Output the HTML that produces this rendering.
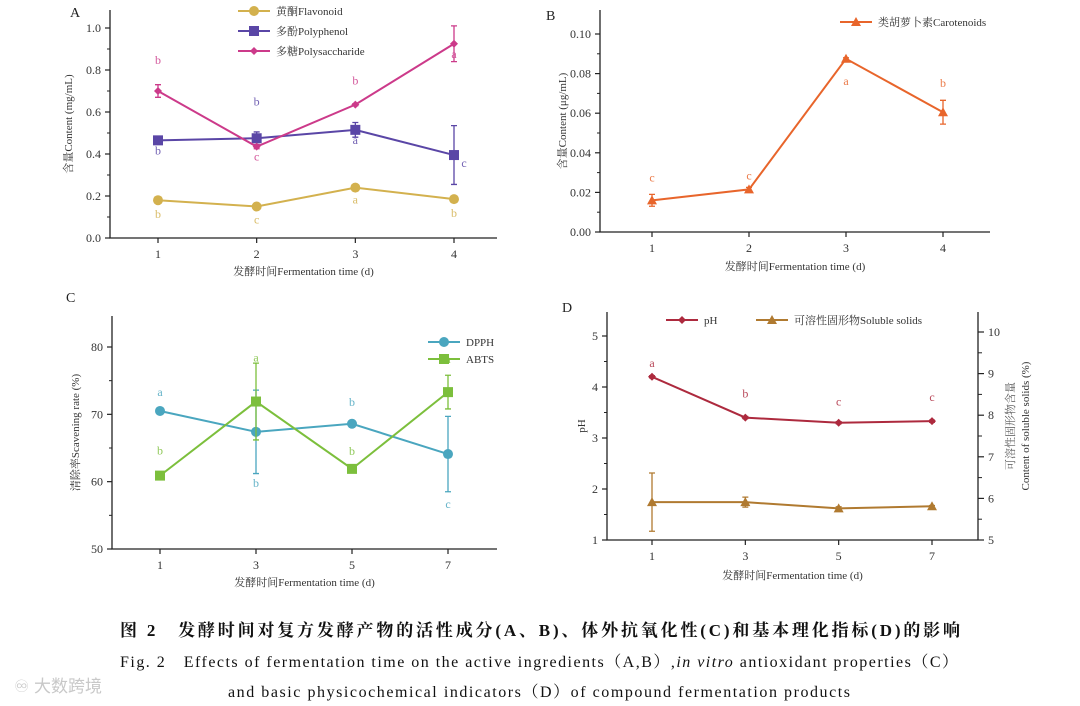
<!DOCTYPE html>
<html><head><meta charset="utf-8">
<style>
body{margin:0;background:#fff;width:1080px;height:706px;overflow:hidden;}
svg{display:block;font-family:"Liberation Serif","Noto Serif CJK SC",serif;}
</style></head>
<body>
<svg id="fig" width="1080" height="706" viewBox="0 0 1080 706"></svg>
<script>
// ---- Panel A data ----
const aCats = [1,2,3,4];
const aFlav = [0.18,0.15,0.24,0.185];
const aFlavErr = [0.005,0.005,0.005,0.005];
const aFlavLbl = ['b','c','a','b'];
const aPoly = [0.465,0.475,0.515,0.395];
const aPolyErr = [0.005,0.03,0.035,0.14];
const aPolyLbl = ['b','b','a','c'];
const aSac = [0.70,0.435,0.635,0.925];
const aSacErr = [0.03,0.01,0.005,0.085];
const aSacLbl = ['b','c','b','a'];
const aTicks = [0,0.2,0.4,0.6,0.8,1.0];
// ---- Panel B data ----
const bCats = [1,2,3,4];
const bCar = [0.016,0.0215,0.0875,0.0605];
const bCarErr = [0.003,0.001,0.0005,0.006];
const bCarLbl = ['c','c','a','b'];
const bTicks = [0,0.02,0.04,0.06,0.08,0.10];
// ---- Panel C data ----
const cCats = [1,3,5,7];
const cDpph = [70.5,67.4,68.6,64.1];
const cDpphErr = [0.3,6.2,0.5,5.6];
const cDpphLbl = ['a','b','b','c'];
const cAbts = [60.9,71.9,61.9,73.3];
const cAbtsErr = [0.3,5.7,0.4,2.5];
const cAbtsLbl = ['b','a','b','a'];
const cTicks = [50,60,70,80];
// ---- Panel D data ----
const dCats = [1,3,5,7];
const dPh = [4.2,3.4,3.3,3.33];
const dPhErr = [0.02,0.02,0.02,0.02];
const dPhLbl = ['a','b','c','c'];
const dSol = [5.91,5.91,5.76,5.81];
const dSolErr = [0.7,0.12,0.04,0.02];
const dTicksL = [1,2,3,4,5];
const dTicksR = [5,6,7,8,9,10];

const svg = document.getElementById('fig');
const NS = 'http://www.w3.org/2000/svg';
function mk(tag, attrs, text){
  const e = document.createElementNS(NS, tag);
  for (const k in attrs) e.setAttribute(k, attrs[k]);
  if (text !== undefined) e.textContent = text;
  svg.appendChild(e);
  return e;
}
function lin(d0,d1,r0,r1){return v=>r0+(v-d0)*(r1-r0)/(d1-d0);}

function marker(shape, x, y, col){
  let e;
  if (shape==='circle') e = mk('circle',{cx:x,cy:y,r:5,fill:col});
  else if (shape==='square') e = mk('rect',{x:x-5,y:y-5,width:10,height:10,fill:col});
  else if (shape==='diamond') e = mk('path',{d:`M${x} ${y-4}L${x+4} ${y}L${x} ${y+4}L${x-4} ${y}Z`,fill:col});
  else e = mk('path',{d:`M${x} ${y-5}L${x+5} ${y+4}L${x-5} ${y+4}Z`,fill:col});
  return e;
}

function series(name, cats, vals, errs, lbls, xs, ys, col, shape, lblOff){
  let d = '';
  cats.forEach((c,i)=>{d += (i?'L':'M') + xs(c) + ' ' + ys(vals[i]);});
  const p = mk('path',{d:d,fill:'none',stroke:col,'stroke-width':2});
  
  
  cats.forEach((c,i)=>{
    const x = xs(c), y1 = ys(vals[i]+errs[i]), y2 = ys(vals[i]-errs[i]);
    const eb = mk('path',{d:`M${x} ${y1}V${y2}M${x-3} ${y1}H${x+3}M${x-3} ${y2}H${x+3}`,stroke:col,'stroke-width':1.3,fill:'none'});
    
    
    const m = marker(shape, x, ys(vals[i]), col);
    
    
    if (lbls){
      const o = lblOff[i];
      const t = mk('text',{x:x+o[0],y:ys(vals[i])+o[1],fill:col,'font-size':12,'text-anchor':'middle','opacity':0.85},lbls[i]);
      
      
    }
  });
}

function axes(name, x0, x1, yTop, yBot, ticks, ys, fmt, cats, xs, panelLbl, plx, ply, ytitle, ytx, xtitleY){
  const ax = mk('path',{d:`M${x0} ${yTop}V${yBot}H${x1}`,stroke:'#222','stroke-width':1.3,fill:'none'});
  
  
  ticks.forEach((t,i)=>{
    const y = ys(t);
    mk('path',{d:`M${x0-5} ${y}H${x0}`,stroke:'#222','stroke-width':1.2});
    if (i<ticks.length-1){const ym=(y+ys(ticks[i+1]))/2; mk('path',{d:`M${x0-3} ${ym}H${x0}`,stroke:'#222','stroke-width':1});}
    const tl = mk('text',{x:x0-9,y:y+4,'font-size':12,'text-anchor':'end',fill:'#333'},fmt(t));
    
    
  });
  cats.forEach(c=>{
    mk('path',{d:`M${xs(c)} ${yBot}V${yBot+5}`,stroke:'#222','stroke-width':1.2});
    const tl = mk('text',{x:xs(c),y:yBot+20,'font-size':12,'text-anchor':'middle',fill:'#333'},c);
    
    
  });
  const pl = mk('text',{x:plx,y:ply,'font-size':14,fill:'#222'},panelLbl);
  
  
  const yc = (yTop+yBot)/2;
  const yt = mk('text',{x:ytx,y:yc,'font-size':11,'text-anchor':'middle',fill:'#333',transform:`rotate(-90 ${ytx} ${yc})`},ytitle);
  
  
  const xt = mk('text',{x:(x0+x1)/2,y:xtitleY,'font-size':11,'text-anchor':'middle',fill:'#333'},'发酵时间Fermentation time (d)');
  
  
}

function legend(name, x, y, col, shape, label){
  const l = mk('path',{d:`M${x} ${y}H${x+32}`,stroke:col,'stroke-width':2});
  
  
  marker(shape, x+16, y, col);
  const t = mk('text',{x:x+38,y:y+4,'font-size':11,fill:'#333'},label);
  
  
}

// Panel A
const axA = lin(1,4,158,454), ayA = lin(0,1,238,28);
axes('panel-a',110,497,10,238,aTicks,ayA,v=>v.toFixed(1),aCats,axA,'A',70,17,'含量Content (mg/mL)',72,275);
const CF='#d3b14e', CP='#5a46a6', CS='#cc3a8a';
series('flavonoid',aCats,aFlav,aFlavErr,aFlavLbl,axA,ayA,CF,'circle',[[0,18],[0,17],[0,16],[0,18]]);
series('polyphenol',aCats,aPoly,aPolyErr,aPolyLbl,axA,ayA,CP,'square',[[0,14],[0,-33],[0,14],[10,12]]);
series('polysaccharide',aCats,aSac,aSacErr,aSacLbl,axA,ayA,CS,'diamond',[[0,-27],[0,14],[0,-20],[0,14]]);
legend('flavonoid',238,11,CF,'circle','黄酮Flavonoid');
legend('polyphenol',238,31,CP,'square','多酚Polyphenol');
legend('polysaccharide',238,51,CS,'diamond','多糖Polysaccharide');

// Panel B
const axB = lin(1,4,652,943), ayB = lin(0,0.1,232,34);
axes('panel-b',600,990,10,232,bTicks,ayB,v=>v.toFixed(2),bCats,axB,'B',546,20,'含量Content (μg/mL)',566,270);
const CC='#e8652b';
series('carotenoids',bCats,bCar,bCarErr,bCarLbl,axB,ayB,CC,'triangle',[[0,-19],[0,-10],[0,26],[0,-25]]);
legend('carotenoids',840,22,CC,'triangle','类胡萝卜素Carotenoids');

// Panel C
const axC = lin(1,7,160,448), ayC = lin(50,80,549,347);
axes('panel-c',112,497,316,549,cTicks,ayC,v=>v,cCats,axC,'C',66,302,'清除率Scavening rate (%)',79,586);
const CD='#4aa6bf', CA='#7cbf3c';
series('dpph',cCats,cDpph,cDpphErr,cDpphLbl,axC,ayC,CD,'circle',[[0,-15],[0,55],[0,-18],[0,54]]);
series('abts',cCats,cAbts,cAbtsErr,cAbtsLbl,axC,ayC,CA,'square',[[0,-21],[0,-40],[0,-14],[0,-29]]);
legend('dpph',428,342,CD,'circle','DPPH');
legend('abts',428,359,CA,'square','ABTS');

// Panel D
const axD = lin(1,7,652,932), ayD = lin(1,5,540,336), ayR = lin(5,10,540,332);
axes('panel-d',607,978,312,540,dTicksL,ayD,v=>v,dCats,axD,'D',562,312,'pH',585,579);
const rax = mk('path',{d:`M978 312V540`,stroke:'#222','stroke-width':1.3});


dTicksR.forEach((t,i)=>{
  const y = ayR(t);
  mk('path',{d:`M978 ${y}H984`,stroke:'#222','stroke-width':1.2});
  if (i<dTicksR.length-1){const ym=(y+ayR(dTicksR[i+1]))/2; mk('path',{d:`M978 ${ym}H982`,stroke:'#222','stroke-width':1});}
  const tl = mk('text',{x:988,y:y+4,'font-size':12,fill:'#333'},t);
  
  
});
const rt1 = mk('text',{x:1014,y:426,'font-size':11,'text-anchor':'middle',fill:'#555',transform:'rotate(-90 1014 426)'},'可溶性固形物含量');


const rt2 = mk('text',{x:1029,y:426,'font-size':11,'text-anchor':'middle',fill:'#333',transform:'rotate(-90 1029 426)'},'Content of soluble solids (%)');


const CH='#ad2a3e', CO='#b07a30';
series('ph',dCats,dPh,dPhErr,dPhLbl,axD,ayD,CH,'diamond',[[0,-10],[0,-20],[0,-17],[0,-20]]);
series('soluble-solids',dCats,dSol,dSolErr,null,axD,ayR,CO,'triangle',null);
legend('ph',666,320,CH,'diamond','pH');
legend('soluble-solids',756,320,CO,'triangle','可溶性固形物Soluble solids');

// Captions
const c1 = mk('text',{x:120,y:636,'font-size':17,'font-weight':'bold',fill:'#111','font-family':'"Liberation Serif","Noto Serif CJK SC",serif',textLength:840,lengthAdjust:'spacing'},'图 2　发酵时间对复方发酵产物的活性成分(A、B)、体外抗氧化性(C)和基本理化指标(D)的影响');


const c2 = mk('text',{x:120,y:667,'font-size':16,fill:'#111',textLength:838,lengthAdjust:'spacing'});
c2.innerHTML = 'Fig. 2　Effects of fermentation time on the active ingredients（A,B）,<tspan font-style="italic">in vitro</tspan> antioxidant properties（C）';


const c3 = mk('text',{x:228,y:697,'font-size':16,fill:'#111',textLength:622,lengthAdjust:'spacing'},'and basic physicochemical indicators（D）of compound fermentation products');


const wm = mk('text',{x:14,y:692,'font-size':17,fill:'#c8c8c8','font-family':'"Liberation Sans","Noto Sans CJK SC",sans-serif'},'♾ 大数跨境');


</script>
</body></html>
